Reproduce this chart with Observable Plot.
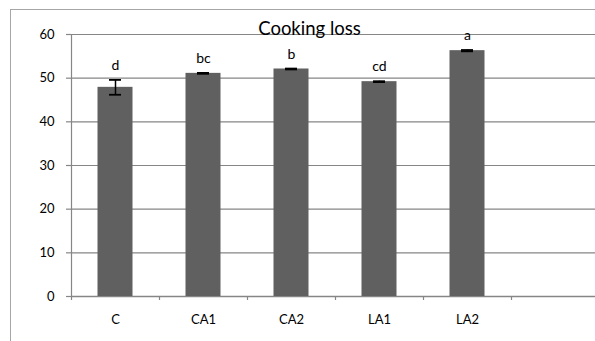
<!DOCTYPE html>
<html>
<head>
<meta charset="utf-8">
<script src="https://cdn.jsdelivr.net/npm/d3@7"></script>
<script src="https://cdn.jsdelivr.net/npm/@observablehq/plot@0.6"></script>
<style>
  body { margin: 0; background: #fff; }
  #chart { position: relative; width: 595px; height: 341px; overflow: hidden; font-family: Lato, "Open Sans", sans-serif; }
  #box { position: absolute; left: 10px; top: 9px; width: 700px; height: 400px; border-left: 1px solid #a6a6a6; border-top: 1px solid #a6a6a6; }
  #title { position: absolute; left: 10px; width: 599px; top: 19px; text-align: center; font-size: 18.5px; color: #000; line-height: 1; z-index: 2; }
  #chart svg { position: absolute; left: 0; top: 0; }
</style>
</head>
<body>
<div id="chart">
  <div id="box"></div>
  <div id="title">Cooking loss</div>
</div>
<script>
// Treatment groups, mean cooking loss, error and significance letters
const groups = ["C", "CA1", "CA2", "LA1", "LA2"];
const means = [47.9, 51.1, 52.1, 49.2, 56.3];
const errors = [1.7, 0.1, 0.1, 0.1, 0.15];
const letters = ["d", "bc", "b", "cd", "a"];
const yTicks = [0, 10, 20, 30, 40, 50, 60];
// one trailing empty slot on the category axis
const slots = [...groups, ""];

const rows = groups.map((g, i) => ({group: g, mean: means[i], err: errors[i], letter: letters[i]}));

const grid = "#868686";
const band = 88;

const plot = Plot.plot({
  width: 595,
  height: 341,
  marginLeft: 71,
  marginTop: 34,
  marginBottom: 45,
  marginRight: 0,
  style: {fontFamily: "Lato, 'Open Sans', sans-serif", fontSize: "13px", color: "#000", background: "transparent"},
  x: {domain: slots, range: [71, 71 + band * slots.length], padding: 0},
  y: {domain: [0, 60]},
  marks: [
    Plot.gridY(yTicks, {stroke: grid, strokeOpacity: 1, strokeWidth: 1.2}),
    Plot.axisY(yTicks, {tickSize: 5, tickPadding: 12, stroke: grid, strokeWidth: 1.2, fontSize: 13, label: null}),
    Plot.frame({anchor: "left", stroke: grid, strokeWidth: 1.2}),
    Plot.ruleY([0], {stroke: grid, strokeWidth: 1.5}),
    Plot.ruleX(slots, {x: d => d, y1: 0, y2: 0, dx: -band / 2, insetBottom: -4, stroke: grid, strokeWidth: 1.2}),
    Plot.axisX({tickSize: 0, tickPadding: 18, fontSize: 13, label: null, tickFormat: d => d}),
    Plot.barY(rows, {x: "group", y: "mean", fill: "#606060", insetLeft: 26.5, insetRight: 26.5}),
    Plot.ruleX(rows, {x: "group", y1: d => d.mean - d.err, y2: d => d.mean + d.err, stroke: "#000", strokeWidth: 1.5}),
    Plot.tickY(rows, {x: "group", y: d => d.mean + d.err, stroke: "#000", strokeWidth: 1.8, insetLeft: 38, insetRight: 38}),
    Plot.tickY(rows, {x: "group", y: d => d.mean - d.err, stroke: "#000", strokeWidth: 1.8, insetLeft: 38, insetRight: 38}),
    Plot.text(rows, {x: "group", y: d => d.mean + d.err, text: "letter", lineAnchor: "bottom", dy: -10, fontSize: 14, fill: "#000"})
  ]
});

document.getElementById("chart").appendChild(plot);
</script>
</body>
</html>
